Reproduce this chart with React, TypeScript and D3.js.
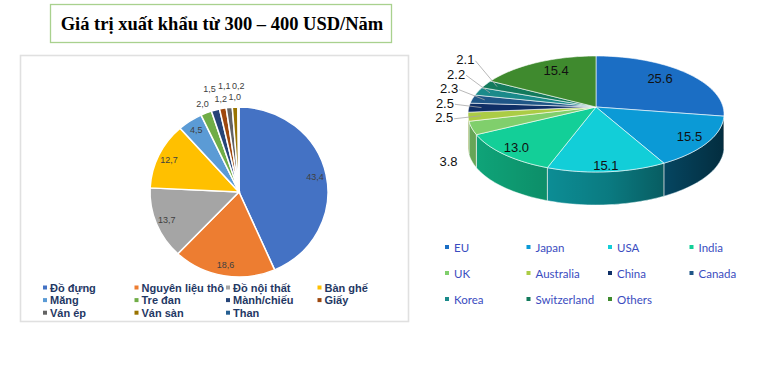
import React, { useRef, useEffect } from 'react';
import { select, pie, arc, range, line, format, color } from 'd3';

// left pie: export share by product
const leftCategories = ['Đồ đựng', 'Nguyên liệu thô', 'Đồ nội thất', 'Bàn ghế', 'Măng', 'Tre đan', 'Mành/chiếu', 'Giấy', 'Ván ép', 'Ván sàn', 'Than'];
const leftValues = [43.4, 18.6, 13.7, 12.7, 4.5, 2.0, 1.5, 1.2, 1.1, 1.0, 0.2];
const leftColors = ['#4472c4', '#ed7d31', '#a5a5a5', '#ffc000', '#5b9bd5', '#70ad47', '#264478', '#9e480e', '#636363', '#997300', '#255e91'];

// right pie: export share by market
const rightCategories = ['EU', 'Japan', 'USA', 'India', 'UK', 'Australia', 'China', 'Canada', 'Korea', 'Switzerland', 'Others'];
const rightValues = [25.6, 15.5, 15.1, 13.0, 3.8, 2.5, 2.5, 2.3, 2.2, 2.1, 15.4];
const rightColors = ['#1b6ec4', '#0b9ad6', '#12ced8', '#13cf98', '#80cf6c', '#abcc45', '#0f2f66', '#1f5687', '#1a8a8a', '#137a5c', '#3f8a2e'];

const titleText = 'Giá trị xuất khẩu từ 300 – 400 USD/Năm';

const App = () => {
  const svgRef = useRef<SVGSVGElement>(null);

  useEffect(() => {
    const svg = select(svgRef.current);
    svg.selectAll('*').remove();

    // title box
    svg.append('rect')
      .attr('x', 50.5).attr('y', 4.5).attr('width', 341).attr('height', 38)
      .attr('fill', '#fff').attr('stroke', '#a9d18e').attr('stroke-width', 1.3);
    svg.append('text')
      .attr('x', 222).attr('y', 29.5)
      .attr('text-anchor', 'middle')
      .style('font-family', '"Liberation Serif", serif')
      .style('font-weight', 'bold').style('font-size', '18.5px')
      .text(titleText);

    // left panel frame
    svg.append('rect')
      .attr('x', 20.5).attr('y', 55.5).attr('width', 388).attr('height', 266)
      .attr('fill', '#fff').attr('stroke', '#e0e0e0').attr('stroke-width', 1.6);

    // ---- left pie ----
    const r = 87;
    const sx = 89 / r, sy = 85 / r;
    const gl = svg.append('g').attr('transform', 'translate(239,192)');
    const arcs = pie<number>().sort(null).value(d => d)(leftValues);
    const arcGen = arc<any>().innerRadius(0).outerRadius(r);
    gl.append('g').attr('transform', `scale(${sx},${sy})`)
      .selectAll('path').data(arcs).join('path')
      .attr('d', arcGen)
      .attr('fill', (d, i) => leftColors[i])
      .attr('stroke', '#fff').attr('stroke-width', 1.5);

    const fmtComma = (v: number) => format('.1f')(v).replace('.', ',');
    let smallIdx = 0;
    const leftLabelPos = arcs.map(d => {
      const mid = (d.startAngle + d.endAngle) / 2;
      let rl = 76;
      let small = false;
      if (d.value < 3) {
        rl = smallIdx % 2 === 0 ? 97 : 109;
        smallIdx++;
        small = true;
      }
      return [Math.sin(mid) * rl * sx, -Math.cos(mid) * rl * sy, small ? 1 : 0];
    });
    // small labels sit in two staggered rows; keep a gap between neighbours of the same row
    for (let i = leftLabelPos.length - 3; i >= 0; i--) {
      if (leftLabelPos[i][2] && leftLabelPos[i + 2][2]) {
        leftLabelPos[i][0] = Math.min(leftLabelPos[i][0], leftLabelPos[i + 2][0] - 14);
      }
    }
    gl.selectAll('text').data(arcs).join('text')
      .attr('x', (d, i) => leftLabelPos[i][0])
      .attr('y', (d, i) => leftLabelPos[i][1])
      .attr('text-anchor', 'middle')
      .attr('dominant-baseline', 'central')
      .attr('fill', '#404040')
      .style('font-family', '"Liberation Sans", sans-serif')
      .style('font-size', '9px')
      .text(d => fmtComma(d.value));

    // left legend
    const ll = svg.append('g');
    const llItems = ll.selectAll('g').data(leftCategories).join('g')
      .attr('transform', (d, i) => `translate(${43 + (i % 4) * 91.5},${287.5 + Math.floor(i / 4) * 12.6})`);
    llItems.append('rect').attr('x', 0).attr('y', -2).attr('width', 4).attr('height', 4)
      .attr('fill', (d, i) => leftColors[i]);
    llItems.append('text').attr('x', 7).attr('y', 0)
      .attr('dominant-baseline', 'central')
      .attr('fill', '#1f3864')
      .style('font-family', '"Liberation Sans", Arial, sans-serif')
      .style('font-weight', 'bold').style('font-size', '11px')
      .text(d => d);

    // ---- right 3D pie ----
    const cx = 596, cy = 114, rx = 128, ry = 58, depth = 33;
    const apex: [number, number] = [596, 107];
    const rim = (a: number, dy = 0): [number, number] => [cx + rx * Math.sin(a), cy - ry * Math.cos(a) + dy];
    const rArcs = pie<number>().sort(null).value(d => d)(rightValues);
    const lineGen = line();

    const defs = svg.append('defs');
    const grad = defs.append('linearGradient').attr('id', 'sideShade')
      .attr('gradientUnits', 'userSpaceOnUse')
      .attr('x1', cx - rx).attr('x2', cx + rx).attr('y1', 0).attr('y2', 0);
    grad.append('stop').attr('offset', 0).attr('stop-color', '#000').attr('stop-opacity', 0.12);
    grad.append('stop').attr('offset', 0.55).attr('stop-color', '#000').attr('stop-opacity', 0.35);
    grad.append('stop').attr('offset', 1).attr('stop-color', '#000').attr('stop-opacity', 0.68);

    const gr = svg.append('g');
    const sides = rArcs.map((d, i) => {
      const s0 = Math.max(d.startAngle, Math.PI / 2);
      const s1 = Math.min(d.endAngle, Math.PI * 3 / 2);
      if (s0 >= s1) return null;
      const n = Math.max(2, Math.ceil((s1 - s0) / 0.03));
      const top = range(n + 1).map(k => rim(s0 + (s1 - s0) * k / n));
      const bot = range(n + 1).map(k => rim(s1 - (s1 - s0) * k / n, depth));
      return { i, d: lineGen([...top, ...bot]) + 'Z' };
    }).filter(Boolean) as { i: number, d: string }[];

    gr.selectAll('path.side').data(sides).join('path')
      .attr('class', 'side')
      .attr('d', s => s.d)
      .attr('fill', s => color(rightColors[s.i])!.darker(0.25).formatHex());
    gr.selectAll('path.shade').data(sides).join('path')
      .attr('class', 'shade')
      .attr('d', s => s.d)
      .attr('fill', 'url(#sideShade)')
      .attr('stroke', '#fff').attr('stroke-width', 0.6).attr('stroke-opacity', 0.8);

    gr.selectAll('path.top').data(rArcs).join('path')
      .attr('class', 'top')
      .attr('d', d => {
        const n = Math.max(2, Math.ceil((d.endAngle - d.startAngle) / 0.03));
        const pts = range(n + 1).map(k => rim(d.startAngle + (d.endAngle - d.startAngle) * k / n));
        return lineGen([apex, ...pts]) + 'Z';
      })
      .attr('fill', (d, i) => rightColors[i])
      .attr('stroke', '#fff').attr('stroke-width', 0.7).attr('stroke-opacity', 0.85);

    // right labels
    const labelFont = '"Liberation Sans", Arial, sans-serif';
    const inside = rArcs.filter(d => d.value >= 10);
    gr.selectAll('text.in').data(inside).join('text')
      .attr('class', 'in')
      .attr('x', d => {
        const m = (d.startAngle + d.endAngle) / 2;
        return cx + (100 - 16 * Math.cos(m)) * Math.sin(m);
      })
      .attr('y', d => {
        const m = (d.startAngle + d.endAngle) / 2;
        return 110 - (50 - 6 * Math.cos(m)) * Math.cos(m);
      })
      .attr('text-anchor', 'middle')
      .attr('dominant-baseline', 'central')
      .attr('fill', '#111')
      .style('font-family', labelFont).style('font-size', '13px')
      .text(d => format('.1f')(d.value));

    // outside labels: ideal spot on a wider ellipse, then stacked upward with min spacing
    let prevY = Infinity;
    const outside = rArcs.filter(d => d.value < 10).map(d => {
      const m = (d.startAngle + d.endAngle) / 2;
      const front = m > Math.PI / 2 && m < Math.PI * 3 / 2 - 0.1;
      const lx = cx + 152 * Math.sin(m);
      let ly = 114 - 80 * Math.cos(m) + (front ? depth * 0.85 : 0);
      if (!front) {
        ly = Math.min(ly, prevY - 14.5);
        prevY = ly;
      }
      const tip = rim(m);
      const end: [number, number] = [apex[0] + 0.9 * (tip[0] - apex[0]), apex[1] + 0.9 * (tip[1] - apex[1])];
      return { d, lx, ly, end, front };
    });
    gr.selectAll('line.lead').data(outside.filter(o => !o.front)).join('line')
      .attr('class', 'lead')
      .attr('x1', o => o.lx + 10).attr('y1', o => o.ly + 1)
      .attr('x2', o => o.end[0]).attr('y2', o => o.end[1])
      .attr('stroke', '#a6a6a6').attr('stroke-width', 0.8);
    gr.selectAll('text.out').data(outside).join('text')
      .attr('class', 'out')
      .attr('x', o => o.lx).attr('y', o => o.ly)
      .attr('text-anchor', 'middle')
      .attr('dominant-baseline', 'central')
      .attr('fill', '#111')
      .style('font-family', labelFont).style('font-size', '13px')
      .text(o => format('.1f')(o.d.value));

    // right legend
    const rl = svg.append('g');
    const rlItems = rl.selectAll('g').data(rightCategories).join('g')
      .attr('transform', (d, i) => `translate(${445 + (i % 4) * 81.5},${247 + Math.floor(i / 4) * 26})`);
    rlItems.append('rect').attr('x', 0).attr('y', -2).attr('width', 4).attr('height', 4)
      .attr('fill', (d, i) => rightColors[i]);
    rlItems.append('text').attr('x', 9).attr('y', 0)
      .attr('dominant-baseline', 'central')
      .attr('fill', '#3a4cc0')
      .style('font-family', 'Lato, sans-serif')
      .style('font-size', '11.5px')
      .text(d => d);
  }, []);

  return (
    <svg
      ref={svgRef}
      width={765}
      height={369}
      style={{ position: 'absolute', left: 0, top: 0, background: '#fff' }}
    />
  );
};

export default App;
